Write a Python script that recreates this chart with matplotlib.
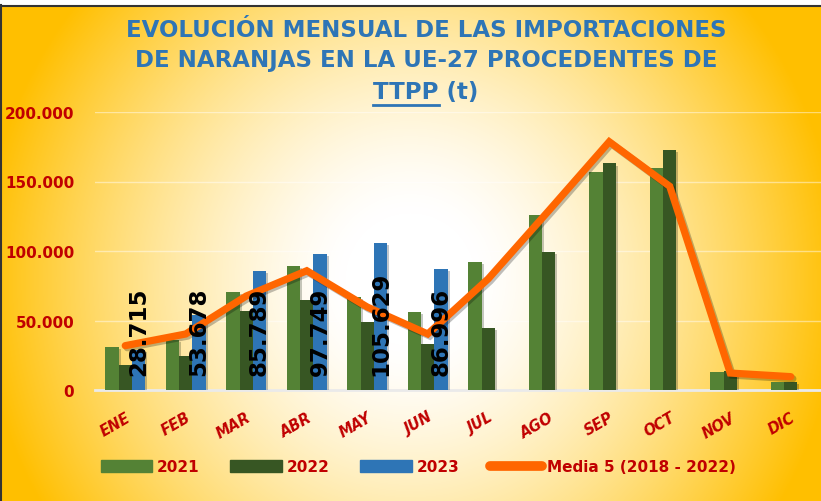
import numpy as np
import matplotlib.pyplot as plt
import matplotlib.patheffects as pe
from matplotlib import font_manager
from matplotlib.patches import Patch, Rectangle
from matplotlib.lines import Line2D

# Data (t)
meses = ["ENE", "FEB", "MAR", "ABR", "MAY", "JUN",
         "JUL", "AGO", "SEP", "OCT", "NOV", "DIC"]
y2021 = [30700, 36000, 70700, 89400, 67000, 56300,
         91800, 126000, 157000, 159500, 12700, 6000]
y2022 = [18200, 24700, 56600, 64700, 48700, 33100,
         44400, 99500, 163000, 172700, 14000, 5500]
y2023 = [28715, 53678, 85789, 97749, 105629, 86996]
media5 = [31900, 40300, 67600, 85800, 59700, 40300,
          80000, 129000, 178600, 146500, 12200, 9600]
yticks = [0, 50000, 100000, 150000, 200000]

RED = '#C00000'
BLUE_T = '#2E75B6'

# pick a narrow font if one is installed
names = {f.name for f in font_manager.fontManager.ttflist}
narrow = None
for cand in ['Liberation Sans Narrow', 'Arial Narrow']:
    if cand in names:
        narrow = cand
        break
if narrow is None:
    narrow = 'DejaVu Sans'

fig = plt.figure(figsize=(8.21, 5.02), dpi=100)

# background gradient (white centre -> gold edges)
bg = fig.add_axes([0, 0, 1, 1], zorder=0)
W, H = 821, 502
xx, yy = np.meshgrid(np.arange(W), np.arange(H))
t = np.sqrt(((xx - 410) / 430.0) ** 2 + ((yy - 280) / 440.0) ** 2)
t = np.clip((t - 0.15) / 0.85, 0, 1) ** 1.4
gold = np.array([1.0, 0.75, 0.0])
img = np.ones((H, W, 3)) * (1 - t[..., None]) + gold * t[..., None]
bg.imshow(img, aspect='auto', extent=[0, W, H, 0])
bg.set_xlim(0, W)
bg.set_ylim(H, 0)
bg.add_patch(Rectangle((0, 0), W, 6, color='white', zorder=2))
bg.plot([0, W], [6.5, 6.5], color='#333333', lw=1.5, zorder=3)
bg.plot([0.8, 0.8], [6, H], color='#333333', lw=1.5, zorder=3)
bg.axis('off')

ax = fig.add_axes([95 / W, 111 / H, 726 / W, 278 / H], zorder=1)
ax.patch.set_alpha(0)

x = np.arange(len(meses))
w = 0.22
shadow = [pe.SimplePatchShadow(offset=(1.5, -1.5), alpha=0.25), pe.Normal()]

b1 = ax.bar(x - w, y2021, w, color='#548235', zorder=3)
b2 = ax.bar(x, y2022, w, color='#375623', zorder=3)
x23 = x[:len(y2023)] + w
b3 = ax.bar(x23, y2023, w, color='#2E75B6', zorder=3)
for bars in (b1, b2, b3):
    for b in bars:
        b.set_path_effects(shadow)

ax.plot(x, media5, color='#FF6600', lw=5.2, solid_capstyle='round',
        solid_joinstyle='miter', zorder=4,
        path_effects=[pe.SimpleLineShadow(offset=(1.5, -1.5), alpha=0.25),
                      pe.Normal()])

# data labels for 2023
for xi, v in zip(x23, y2023):
    lbl = f"{v:,}".replace(",", ".")
    ax.annotate(lbl, (xi, 0), xytext=(0, 11), textcoords='offset points',
                rotation=90, ha='center', va='bottom', fontsize=16.5,
                fontweight='bold', color='black', family=narrow, zorder=5)

ax.set_xlim(-0.5, len(meses) - 0.5)
ax.set_ylim(0, 200000)
ax.set_yticks(yticks)
ax.set_yticklabels([f"{v:,}".replace(",", ".") for v in yticks],
                   fontsize=11, fontweight='bold', color=RED, family=narrow)
ax.set_xticks(x)
ax.set_xticklabels(meses, rotation=30, ha='right', va='top',
                   rotation_mode='anchor', fontsize=10.5,
                   fontweight='bold', style='italic', color=RED)
ax.tick_params(axis='y', length=0, pad=15)
ax.tick_params(axis='x', length=0, pad=14)
for s in ['top', 'right', 'left']:
    ax.spines[s].set_visible(False)
ax.spines['bottom'].set_color('#EAEAEA')
ax.spines['bottom'].set_linewidth(2)
ax.grid(axis='y', color='white', alpha=0.45, lw=1)
ax.set_axisbelow(True)

# title
tkw = dict(ha='center', va='center', fontsize=16.5, fontweight='bold',
           color=BLUE_T)
fig.text(426 / W, 1 - 31 / H, "EVOLUCIÓN MENSUAL DE LAS IMPORTACIONES", **tkw)
fig.text(426 / W, 1 - 61 / H, "DE NARANJAS EN LA UE-27 PROCEDENTES DE", **tkw)
t1 = fig.text(426 / W, 1 - 93 / H, "TTPP (t)", **tkw)
fig.canvas.draw()
r = fig.canvas.get_renderer()
full = t1.get_window_extent(r)
tmp = fig.text(0, 0, "TTPP", fontsize=16.5, fontweight='bold')
tw = tmp.get_window_extent(r).width
tmp.remove()
bg.plot([full.x0, full.x0 + tw], [H - full.y0 + 1, H - full.y0 + 1],
        color=BLUE_T, lw=2, zorder=4)

# legend
handles = [Patch(color='#548235'), Patch(color='#375623'),
           Patch(color='#2E75B6'),
           Line2D([], [], color='#FF6600', lw=7, solid_capstyle='round')]
labels = ['2021', '2022', '2023', 'Media 5 (2018 - 2022)']
leg = fig.legend(handles, labels, loc='center', ncol=4,
                 bbox_to_anchor=(418 / W, 1 - 468 / H), frameon=False,
                 handlelength=3.4, handleheight=0.8, handletextpad=0.3,
                 columnspacing=2.0,
                 prop={'size': 11, 'weight': 'bold', 'family': narrow})
for txt in leg.get_texts():
    txt.set_color(RED)

fig.savefig('out.png', dpi=100)
